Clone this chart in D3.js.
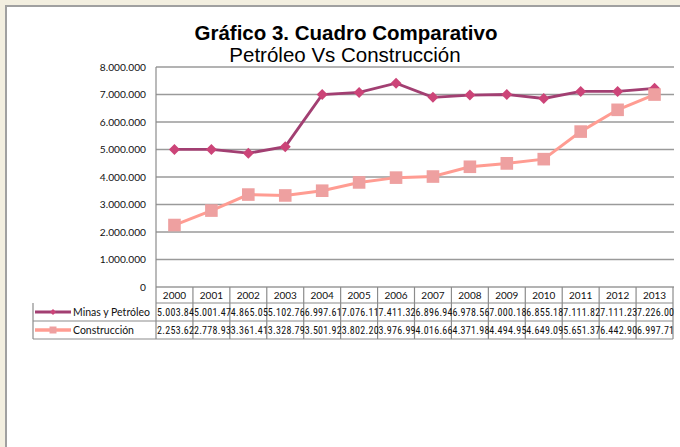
<!DOCTYPE html>
<html>
<head>
<meta charset="utf-8">
<script src="https://cdn.jsdelivr.net/npm/d3@7"></script>
<style>
  body { margin: 0; background: #f3efe0; }
  svg { display: block; }
</style>
</head>
<body>
<div class="chart"></div>
<script>
// data (last digit estimated where the table clips it)
var years = ["2000", "2001", "2002", "2003", "2004", "2005", "2006", "2007", "2008", "2009", "2010", "2011", "2012", "2013"];
var minas = [5003845, 5001474, 4865055, 5102766, 6997617, 7076117, 7411326, 6896946, 6978567, 7000186, 6855187, 7111827, 7111237, 7226004];
var construccion = [2253622, 2778933, 3361413, 3328793, 3501923, 3802203, 3976994, 4016664, 4371984, 4494954, 4649094, 5651376, 6442906, 6997712];
var yTicks = [0, 1000000, 2000000, 3000000, 4000000, 5000000, 6000000, 7000000, 8000000];

var series = [
  { name: "Minas y Petróleo", values: minas, line: "#a23f72", fill: "#cc4478", marker: "diamond" },
  { name: "Construcción", values: construccion, line: "#ff9c92", fill: "#eea0a0", marker: "square" }
];

var svgWidth = 680, svgHeight = 447;
var plot = { left: 156, right: 673, top: 67, bottom: 287 };
var rowH = [16, 18, 18];
var legendLeft = 33;

var loc = d3.formatLocale({ decimal: ",", thousands: ".", grouping: [3], currency: ["", ""] });
var fmt = loc.format(",d");

var svg = d3.select(".chart").append("svg")
  .attr("width", svgWidth)
  .attr("height", svgHeight);

// page panel
svg.append("rect").attr("x", 0).attr("y", 0).attr("width", svgWidth).attr("height", svgHeight).attr("fill", "#f3efe0");
svg.append("rect").attr("x", 7).attr("y", 7).attr("width", svgWidth).attr("height", svgHeight).attr("fill", "#fff");
svg.append("path").attr("d", "M6,447V6H680").attr("fill", "none").attr("stroke", "#a0a0a0").attr("stroke-width", 2);

var x = d3.scaleBand().domain(years).range([plot.left, plot.right]);
var y = d3.scaleLinear().domain([0, 8000000]).range([plot.bottom, plot.top]);

// gridlines
svg.append("g").selectAll("line")
  .data(yTicks)
  .enter().append("line")
  .attr("x1", plot.left).attr("x2", plot.right + 1)
  .attr("y1", d => y(d)).attr("y2", d => y(d))
  .attr("stroke", "#9a9a9a").attr("stroke-width", 1.5);

// y axis
var yAxis = d3.axisLeft(y).tickValues(yTicks).tickFormat(fmt).tickSize(0).tickPadding(10);
var gy = svg.append("g").attr("transform", `translate(${plot.left},0)`).call(yAxis);
gy.select(".domain").remove();
gy.selectAll("text").attr("font-family", "Lato, 'Open Sans', sans-serif").attr("font-size", "10.2px").attr("fill", "#111");

// title
svg.append("text").attr("x", 346).attr("y", 40).attr("text-anchor", "middle")
  .attr("font-family", "'Liberation Sans', Arial, sans-serif").attr("font-weight", "bold").attr("font-size", "20.5px")
  .text("Gráfico 3. Cuadro Comparativo");
svg.append("text").attr("x", 345).attr("y", 62).attr("text-anchor", "middle")
  .attr("font-family", "'Liberation Sans', Arial, sans-serif").attr("font-size", "20.5px")
  .text("Petróleo Vs Construcción");

// data table
var tTop = plot.bottom;
var r1 = tTop + rowH[0], r2 = r1 + rowH[1], r3 = r2 + rowH[2];
var table = svg.append("g").attr("fill", "none").attr("stroke", "#8c8c8c").attr("stroke-width", 1.2);
table.append("line").attr("x1", plot.left).attr("x2", plot.left).attr("y1", plot.top).attr("y2", r3);
years.forEach(function (yr) {
  table.append("line").attr("x1", x(yr) + x.bandwidth()).attr("x2", x(yr) + x.bandwidth()).attr("y1", tTop).attr("y2", r3);
});
[r1, r2, r3].forEach(function (ry) {
  table.append("line").attr("x1", ry === r1 ? plot.left : legendLeft).attr("x2", plot.right).attr("y1", ry).attr("y2", ry);
});
table.append("line").attr("x1", legendLeft).attr("x2", legendLeft).attr("y1", r1).attr("y2", r3);

svg.append("g").selectAll("text")
  .data(years)
  .enter().append("text")
  .attr("x", d => x(d) + x.bandwidth() / 2)
  .attr("y", r1 - 4)
  .attr("text-anchor", "middle")
  .attr("font-family", "Lato, 'Open Sans', sans-serif").attr("font-size", "10px").attr("fill", "#111")
  .text(d => d);

function markerPath(type, cx, cy, s) {
  if (type === "diamond") return `M${cx},${cy - s}L${cx + s},${cy}L${cx},${cy + s}L${cx - s},${cy}Z`;
  return `M${cx - s},${cy - s}h${2 * s}v${2 * s}h${-2 * s}Z`;
}

series.forEach(function (s, k) {
  var rowTop = k === 0 ? r1 : r2;
  var mid = rowTop + rowH[k + 1] / 2;

  // legend key
  svg.append("line").attr("x1", 35).attr("x2", 71).attr("y1", mid).attr("y2", mid)
    .attr("stroke", s.line).attr("stroke-width", k === 0 ? 3 : 3.5);
  svg.append("path").attr("d", markerPath(s.marker, 53, mid, k === 0 ? 3 : 3.5)).attr("fill", s.fill);
  svg.append("text").attr("x", 73).attr("y", mid + 3.5)
    .attr("font-family", "Lato, 'Open Sans', sans-serif").attr("font-size", "10.5px").attr("fill", "#111")
    .text(s.name);

  // values in table, cut to what the cell shows
  svg.append("g").selectAll("text")
    .data(s.values)
    .enter().append("text")
    .attr("x", (d, i) => x(years[i]) + 1)
    .attr("y", mid + 3.6)
    .attr("font-family", "'Liberation Sans Narrow', 'Roboto Condensed', Lato, sans-serif")
    .attr("font-size", "10px").attr("letter-spacing", "0.3px").attr("fill", "#111")
    .text(d => fmt(d).slice(0, 8));

  // line
  var line = d3.line()
    .x((d, i) => x(years[i]) + x.bandwidth() / 2)
    .y(d => y(d));
  svg.append("path").datum(s.values)
    .attr("d", line)
    .attr("fill", "none")
    .attr("stroke", s.line)
    .attr("stroke-width", k === 0 ? 2.8 : 3);

  svg.append("g").selectAll("path")
    .data(s.values)
    .enter().append("path")
    .attr("d", (d, i) => markerPath(s.marker, x(years[i]) + x.bandwidth() / 2, y(d), k === 0 ? 5.5 : 6.3))
    .attr("fill", s.fill);
});
</script>
</body>
</html>
